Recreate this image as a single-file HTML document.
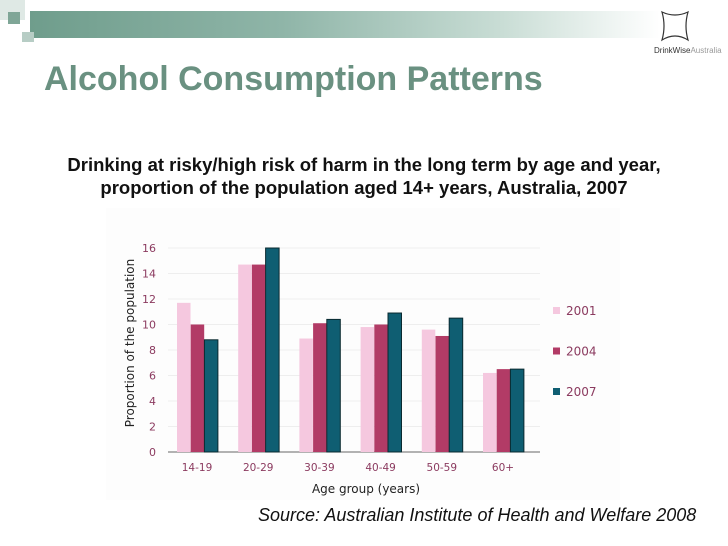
<!DOCTYPE html>
<html><head><meta charset="utf-8">
<style>
body{margin:0;width:728px;height:546px;background:#fff;overflow:hidden;position:relative;font-family:"Liberation Sans",sans-serif}
.abs{position:absolute}
</style></head>
<body>
<div class="abs" style="left:30px;top:11px;width:630px;height:27px;background:linear-gradient(90deg,#6f9d8c 0%,#8fb5a8 40%,#c9ddd5 75%,#ffffff 100%)"></div>
<div class="abs" style="left:0;top:0;width:25px;height:20px;background:#dfe9e5"></div>
<div class="abs" style="left:8px;top:12px;width:12px;height:12px;background:#7fa697"></div>
<div class="abs" style="left:22px;top:32px;width:12px;height:10px;background:#b7cdc5"></div>
<div class="abs" style="left:654px;top:46px;font-size:8px;color:#333">DrinkWise<span style="color:#999">Australia</span></div>
<svg class="abs" style="left:658px;top:8px" width="34" height="36"><path d="M4 4 Q17 10 30 4 Q26 18 30 32 Q17 24 4 32 Q8 18 4 4Z" fill="none" stroke="#333" stroke-width="1.2"/></svg>
<div class="abs" style="left:44px;top:60px;font-size:34px;font-weight:bold;color:#6a9181;white-space:nowrap">Alcohol Consumption Patterns</div>
<div class="abs" style="left:0px;top:153px;width:728px;text-align:center;font-size:18.5px;font-weight:bold;color:#111;line-height:23px;white-space:nowrap">Drinking at risky/high risk of harm in the long term by age and year,<br>proportion of the population aged 14+ years, Australia, 2007</div>
<svg class="abs" style="left:0;top:0" width="728" height="546" id="chart"></svg>
<div class="abs" style="left:258px;top:505px;font-size:18px;font-style:italic;color:#111;white-space:nowrap">Source: Australian Institute of Health and Welfare 2008</div>
<script>
const categories=["14-19","20-29","30-39","40-49","50-59","60+"];
const s2001=[11.7,14.7,8.9,9.8,9.6,6.2];
const s2004=[10,14.7,10.1,10,9.1,6.5];
const s2007=[8.8,16,10.4,10.9,10.5,6.5];
const yTicks=[0,2,4,6,8,10,12,14,16];
const seriesNames=["2001","2004","2007"];
const colors=["#f5c8df","#b23b66","#0f5e72"];
const svg=document.getElementById('chart');
const NS='http://www.w3.org/2000/svg';
function y(v){return 452-v*12.75;}
function gx(i){return 177+i*61.2;}
function mk(t,a){const e=document.createElementNS(NS,t);for(const k in a)e.setAttribute(k,a[k]);svg.appendChild(e);return e;}
let bg=mk('rect',{x:106,y:208,width:514,height:292,fill:'#fdfdfd'});


yTicks.forEach(t=>{
 let l=mk('line',{x1:168,x2:540,y1:y(t),y2:y(t),stroke:t?'#eeeeee':'#666','stroke-width':1});
 
 
 let tx=mk('text',{x:156,y:y(t)+4,'text-anchor':'end','font-size':11,fill:'#8b3a5f','font-family':'DejaVu Sans, sans-serif'});
 tx.textContent=t;
 
 
});
[s2001,s2004,s2007].forEach((s,si)=>{
 s.forEach((v,i)=>{
  let r=mk('rect',{x:gx(i)+si*13.7,y:y(v),width:13.5,height:v*12.75,fill:colors[si],stroke:si==2?'#0a2a30':'none','stroke-width':si==2?1:0});
  
  
 });
});
categories.forEach((c,i)=>{
 let t=mk('text',{x:gx(i)+20,y:471,'text-anchor':'middle','font-size':10.5,fill:'#8b3a5f','font-family':'DejaVu Sans, sans-serif'});
 t.textContent=c;
 
 
});
let xt=mk('text',{x:366,y:493,'text-anchor':'middle','font-size':12,fill:'#222','font-family':'DejaVu Sans, sans-serif'});
xt.textContent='Age group (years)';


let yt=mk('text',{x:0,y:0,transform:'translate(134,343) rotate(-90)','text-anchor':'middle','font-size':12,fill:'#222','font-family':'DejaVu Sans, sans-serif'});
yt.textContent='Proportion of the population';


seriesNames.forEach((n,i)=>{
 let ly=315+i*40.5;
 let r=mk('rect',{x:553,y:ly-8,width:7,height:7,fill:colors[i]});
 
 
 let t=mk('text',{x:566,y:ly,'font-size':12,fill:'#8b3a5f','font-family':'DejaVu Sans, sans-serif'});
 t.textContent=n;
 
 
});
</script>
</body></html>
